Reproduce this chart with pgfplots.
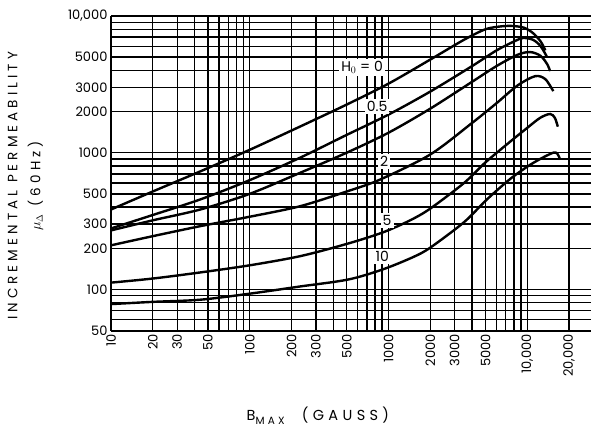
\documentclass[border=0pt]{standalone}
\usepackage{pgfplots}
\pgfplotsset{compat=1.18}
\usepackage{fontspec}
\setmainfont{Poppins}
\newfontfamily\spaced[LetterSpace=30]{Poppins}
\tikzset{
  curve/.style={black, line width=2.4pt, smooth, tension=0.5, mark=none},
  lab/.style={fill=white, inner sep=2pt, font=\fontsize{14}{16}\selectfont},
}
\begin{document}
\begin{tikzpicture}
\begin{axis}[
  scale only axis, width=480pt, height=314.5pt,
  xmode=log, ymode=log,
  xmin=10, xmax=28800, ymin=50, ymax=10000,
  axis x line*=bottom, axis y line*=left,
  axis line style={line width=2pt},
  clip mode=individual,
  xtick={10,20,30,50,100,200,300,500,1000,2000,3000,5000,10000,20000},
  xticklabels={10,20,30,50,100,200,300,500,1000,2000,3000,5000,{10,000},{20,000}},
  minor xtick={40,60,70,80,90,400,600,700,800,900,4000,6000,7000,8000,9000},
  ytick={50,100,200,300,500,1000,2000,3000,5000,10000},
  yticklabels={50,100,200,300,500,1000,2000,3000,5000,{10,000}},
  minor ytick={60,70,80,90,400,600,700,800,900,4000,6000,7000,8000,9000},
  grid=both,
  major grid style={black, line width=1.4pt},
  minor grid style={black, line width=1.4pt},
  major tick length=0pt, minor tick length=0pt,
  xticklabel style={rotate=90, anchor=east, font=\fontsize{13}{15}\selectfont},
  yticklabel style={font=\fontsize{13}{15}\selectfont},
]
\addplot[curve] coordinates {(10,384) (20,520) (44,730) (100,1050) (231,1555) (500,2250) (1000,3200) (2000,4800) (3500,6700) (5000,8000) (6500,8400) (7900,8450) (9500,8200) (11000,7500) (12500,6500) (13500,5600)};
\addplot[curve] coordinates {(10,279) (20,350) (44,455) (100,630) (231,920) (500,1350) (1000,1900) (2000,2800) (4000,4300) (6000,5600) (8000,6500) (9300,6900) (11000,6700) (12500,6000) (13900,5000)};
\addplot[curve] coordinates {(10,270) (20,320) (44,384) (100,500) (231,713) (500,1000) (1000,1400) (2000,2100) (4000,3300) (6000,4300) (8500,5200) (10500,5450) (12500,5100) (14000,4400) (14600,3950)};
\addplot[curve] coordinates {(10,210) (20,245) (44,290) (100,340) (231,406) (500,520) (870,636) (2000,970) (4000,1650) (6000,2300) (8500,3100) (11400,3630) (13500,3450) (15400,2820)};
\addplot[curve] coordinates {(10,112) (20,120) (44,133) (100,150) (231,175) (500,215) (910,261) (1432,320) (2000,390) (3500,600) (5000,850) (7500,1200) (10000,1520) (12400,1800) (14600,1920) (15800,1800) (16600,1550)};
\addplot[curve] coordinates {(10,78) (20,81) (44,84) (100,93) (231,105) (512,118) (910,140) (1500,172) (2000,202) (3500,310) (5120,455) (7500,640) (10000,790) (12400,900) (15400,1000) (16500,980) (17250,890)};
\node[lab] at (axis cs:645,4200) {H$_0$ = 0};
\node[lab] at (axis cs:828,2180) {0.5};
\node[lab] at (axis cs:929,863) {2};
\node[lab] at (axis cs:977,319) {5};
\node[lab] at (axis cs:900,174) {10};
\node[rotate=90, align=center, font=\spaced\fontsize{13.5}{23}\selectfont] at (rel axis cs:-0.178,0.46) {INCREMENTAL PERMEABILITY\\$\mu_{\Delta}$ (60Hz)};
\node[font=\spaced\fontsize{14.5}{17}\selectfont] at (rel axis cs:0.431,-0.272) {B\raisebox{-0.5ex}{\fontsize{10.5}{12}\selectfont MAX}\hspace{1.2em}(GAUSS)};
\end{axis}
\pgfresetboundingbox
\path[use as bounding box] (-111pt,-99pt) rectangle (480pt,330.5pt);
\end{tikzpicture}
\end{document}
